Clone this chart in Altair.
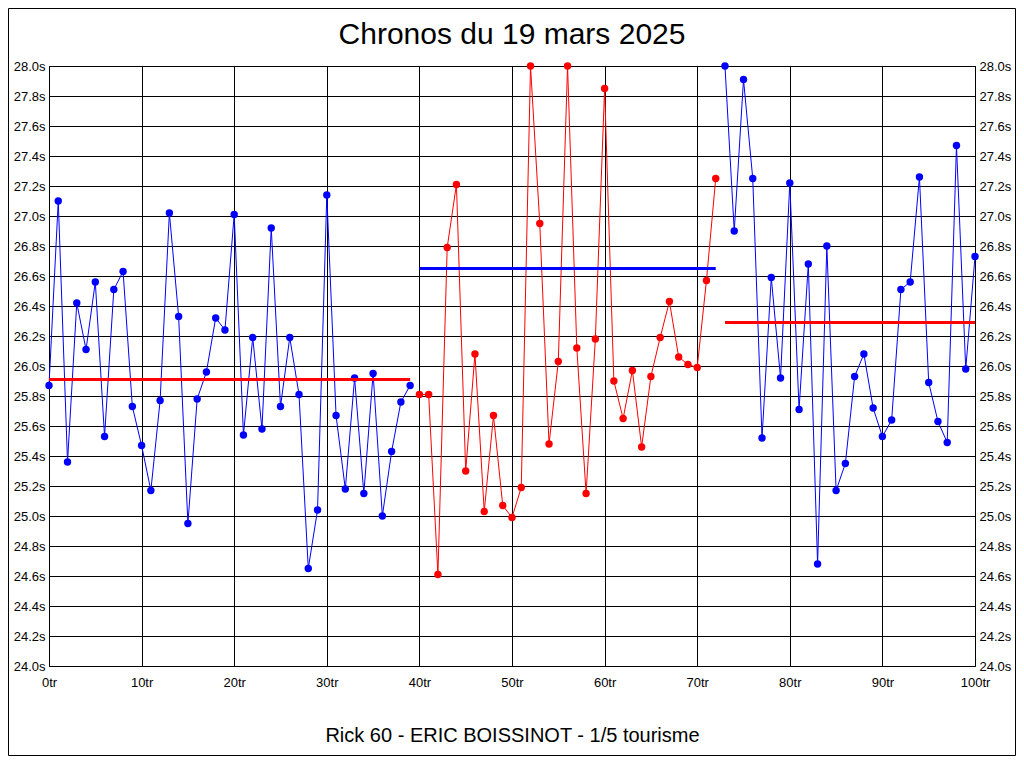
import altair as alt
import pandas as pd

# ---- data ----
laps_1 = list(range(0, 40))
times_1 = [25.87, 27.10, 25.36, 26.42, 26.11, 26.56, 25.53, 26.51, 26.63, 25.73,
           25.47, 25.17, 25.77, 27.02, 26.33, 24.95, 25.78, 25.96, 26.32, 26.24,
           27.01, 25.54, 26.19, 25.58, 26.92, 25.73, 26.19, 25.81, 24.65, 25.04,
           27.14, 25.67, 25.18, 25.92, 25.15, 25.95, 25.00, 25.43, 25.76, 25.87]
laps_2 = list(range(40, 73))
times_2 = [25.81, 25.81, 24.61, 26.79, 27.21, 25.30, 26.08, 25.03, 25.67, 25.07,
           24.99, 25.19, 28.00, 26.95, 25.48, 26.03, 28.00, 26.12, 25.15, 26.18,
           27.85, 25.90, 25.65, 25.97, 25.46, 25.93, 26.19, 26.43, 26.06, 26.01,
           25.99, 26.57, 27.25]
laps_3 = list(range(73, 101))
times_3 = [28.00, 26.90, 27.91, 27.25, 25.52, 26.59, 25.92, 27.22, 25.71, 26.68,
           24.68, 26.80, 25.17, 25.35, 25.93, 26.08, 25.72, 25.53, 25.64, 26.51,
           26.56, 27.26, 25.89, 25.63, 25.49, 27.47, 25.98, 26.73]

series_names = ["s1", "s2", "s3"]
series_colors = ["#0000FF", "#FF0000", "#0000FF"]

mean_starts = [0, 40, 73]
mean_ends = [39, 72, 100]
mean_values = [25.91, 26.65, 26.29]
mean_colors = ["#FF0000", "#0000FF", "#FF0000"]

x_ticks = [0, 10, 20, 30, 40, 50, 60, 70, 80, 90, 100]
y_ticks = [24.0, 24.2, 24.4, 24.6, 24.8, 25.0, 25.2, 25.4, 25.6, 25.8, 26.0,
           26.2, 26.4, 26.6, 26.8, 27.0, 27.2, 27.4, 27.6, 27.8, 28.0]

title_text = "Chronos du 19 mars 2025"
subtitle_text = "Rick 60 - ERIC BOISSINOT - 1/5 tourisme"

# ---- tables ----
rows = []
for name, col, laps, times in zip(series_names, series_colors,
                                  [laps_1, laps_2, laps_3],
                                  [times_1, times_2, times_3]):
    for l, t in zip(laps, times):
        rows.append({"lap": l, "time": t, "serie": name, "color": col})
df = pd.DataFrame(rows)

dfm = pd.DataFrame({"start": mean_starts, "end": mean_ends,
                    "mean": mean_values, "color": mean_colors})

FONT = "Liberation Sans"
W, H = 926, 600
CW, CH = 1008, 748
PAD = {"left": 41, "top": 58, "right": CW - 41 - W, "bottom": CH - 58 - H}

xscale = alt.Scale(domain=[0, 100], nice=False, zero=False)
yscale = alt.Scale(domain=[24, 28], nice=False, zero=False)

x_axis = alt.Axis(values=x_ticks, labelExpr="datum.value + 'tr'",
                  labelFlush=False, labelOverlap=False,
                  labelFont=FONT, labelFontSize=13, labelColor="black",
                  labelPadding=10, tickSize=0, domain=False,
                  grid=True, gridColor="black", gridOpacity=1, gridWidth=1,
                  title=subtitle_text, titleFont=FONT, titleFontSize=20,
                  titleFontWeight="normal", titleColor="black", titlePadding=36)

y_axis_left = alt.Axis(values=y_ticks, labelExpr="format(datum.value, '.1f') + 's'",
                       labelOverlap=False, labelFont=FONT, labelFontSize=13,
                       labelColor="black", labelPadding=4, tickSize=0, domain=False,
                       grid=True, gridColor="black", gridOpacity=1, gridWidth=1,
                       title="", orient="left")
y_axis_right = alt.Axis(values=y_ticks, labelExpr="format(datum.value, '.1f') + 's'",
                        labelOverlap=False, labelFont=FONT, labelFontSize=13,
                        labelColor="black", labelPadding=4, tickSize=0, domain=False,
                        grid=False, title="", orient="right")

lines = alt.Chart(df).mark_line(
    strokeWidth=1,
    point=alt.OverlayMarkDef(filled=True, size=55, opacity=1),
).encode(
    x=alt.X("lap:Q", scale=xscale, axis=x_axis),
    y=alt.Y("time:Q", scale=yscale, axis=y_axis_left),
    color=alt.Color("color:N", scale=None),
    detail="serie:N",
)

means = alt.Chart(dfm).mark_rule(strokeWidth=3).encode(
    x=alt.X("start:Q", scale=xscale),
    x2="end:Q",
    y=alt.Y("mean:Q", scale=yscale, axis=y_axis_right),
    color=alt.Color("color:N", scale=None),
)

one = pd.DataFrame({"a": [0]})

border = alt.Chart(one).mark_rect(
    filled=False, stroke="black", strokeWidth=1
).encode(
    x=alt.value(-40.5), x2=alt.value(CW - 41 - 0.5),
    y=alt.value(-57.5), y2=alt.value(CH - 58 - 0.5),
)

title = alt.Chart(one).mark_text(
    text=title_text, font=FONT, fontSize=30, color="black",
    align="center", baseline="alphabetic",
).encode(x=alt.value(W / 2), y=alt.value(-22))

chart = alt.layer(lines, means, border, title).resolve_axis(
    y="independent"
).properties(
    width=W, height=H,
    autosize=alt.AutoSizeParams(type="none"),
    padding=PAD,
    background="white",
).configure_view(stroke="black", strokeWidth=1)

chart.save("out.html", embed_options={"renderer": "svg", "actions": False})
